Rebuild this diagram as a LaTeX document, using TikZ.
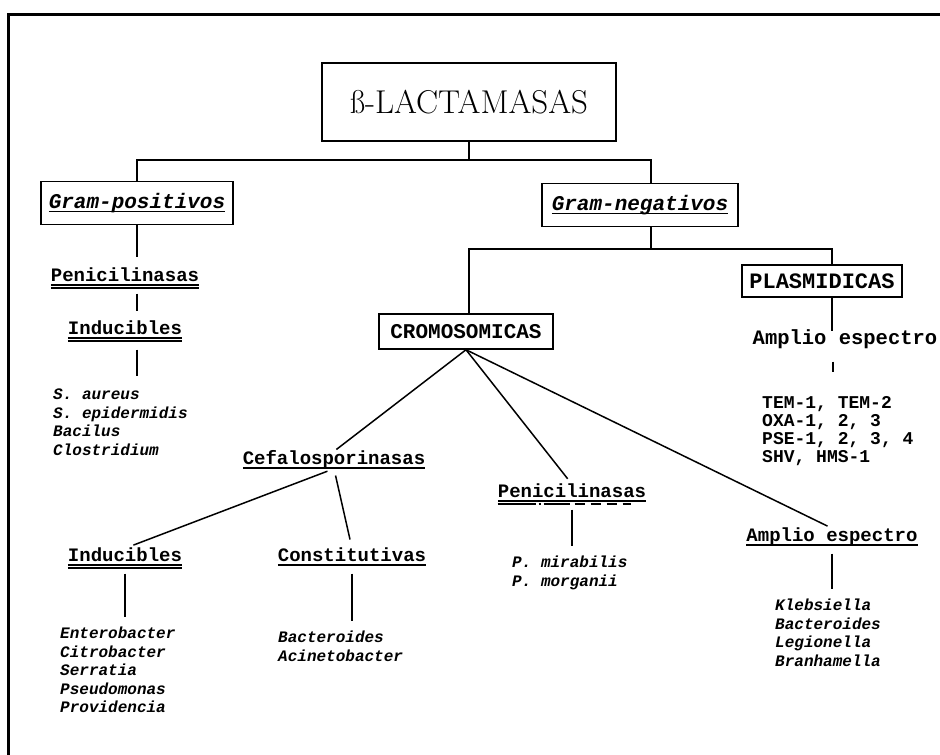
\documentclass[tikz,border=0pt]{standalone}
\usepackage{fontspec}
\setmonofont{Liberation Mono}
\usetikzlibrary{positioning}
% thick underlines, single and double
\newcommand{\ulone}[1]{\setbox0=\hbox{#1}\rlap{\rule[-4pt]{\wd0}{1.4pt}}\box0}
\newcommand{\ultwo}[1]{\setbox0=\hbox{#1}\rlap{\rule[-4pt]{\wd0}{1.4pt}}\rlap{\rule[-7pt]{\wd0}{1.4pt}}\box0}

\begin{document}
\begin{tikzpicture}[
    x=1pt, y=-1pt,
    conn/.style={line width=1.5pt},
    link/.style={conn, shorten <=8pt, shorten >=10pt},
    box/.style={draw, line width=1.5pt, inner sep=0pt},
    lbl/.style={inner sep=0pt, text height=13pt, text depth=4pt, font=\ttfamily\bfseries\fontsize{19}{21}\selectfont},
    grp/.style={box, minimum height=43pt, font=\ttfamily\bfseries\itshape\fontsize{21}{24}\selectfont},
    spp/.style={inner sep=0pt, anchor=north west, align=left, font=\ttfamily\bfseries\itshape\fontsize{16}{18.5}\selectfont}
]
    \useasboundingbox (0,0) rectangle (940,755);
    \draw[line width=3pt] (8,755) -- (8,14) -- (940,14);

    % top levels
    \node[box, minimum width=294pt, minimum height=78pt, font=\fontsize{33}{36}\selectfont] (lact) at (469,102) {ß-LACTAMASAS};
    \node[grp, minimum width=192pt] (gpos) at (137,203) {\ulone{Gram-positivos}};
    \node[grp, minimum width=196pt] (gneg) at (640,205) {\ulone{Gram-negativos}};
    \coordinate (split) at (469,160);
    \draw[conn] (lact) -- (split);
    \draw[conn] (gpos) |- (split) -| ([xshift=11pt]gneg.north);

    % Gram-positivos
    \node[lbl] (pen1) at (125,277) {\ultwo{Penicilinasas}};
    \node[lbl] (ind1) at (125,330) {\ultwo{Inducibles}};
    \node[spp] (gplist) at (53,389) {S. aureus\\S. epidermidis\\Bacilus\\Clostridium};
    \draw[conn, shorten >=11pt] (gpos) -- (gpos.south |- pen1.north);
    \draw[link] (gpos.south |- pen1.south) -- (gpos.south |- ind1.north);
    \draw[link, shorten <=11pt, shorten >=13pt] (gpos.south |- ind1.south) -- (gpos.south |- gplist.north);

    % Gram-negativos
    \node[box, minimum width=174pt, minimum height=35pt, font=\ttfamily\bfseries\fontsize{21}{24}\selectfont] (crom) at (466,331.5) {CROMOSOMICAS};
    \node[box, minimum width=160pt, minimum height=32pt, font=\ttfamily\bfseries\fontsize{22}{24}\selectfont] (plas) at (822,281) {PLASMIDICAS};
    \coordinate (split2) at (651,249);
    \draw[conn] ([xshift=11pt]gneg.south) -- (split2);
    \draw[conn] ([xshift=3pt]crom.north) |- (split2) -| ([xshift=10pt]plas.north);

    % plasmidicas
    \node[lbl, font=\ttfamily\bfseries\fontsize{20.5}{22}\selectfont] (amp1) at (845,340) {Amplio espectro};
    \node[inner sep=0pt, anchor=north west, align=left, font=\ttfamily\bfseries\fontsize{18}{18}\selectfont] (tem) at (762,396) {TEM-1, TEM-2\\OXA-1, 2, 3\\PSE-1, 2, 3, 4\\SHV, HMS-1};
    \draw[conn] ([xshift=10pt]plas.south) -- ([xshift=10pt]plas.south |- amp1.north);
    \draw[conn, shorten <=13pt, shorten >=24pt] ([xshift=11pt]plas.south |- amp1.south) -- ([xshift=11pt]plas.south |- tem.north);

    % cromosomicas
    \node[lbl] (cef) at (334,460) {\ulone{Cefalosporinasas}};
    \node[lbl] (pen2) at (572,493) {\ulone{Penicilinasas}};
    \node[lbl] (amp2) at (832,537) {\ulone{Amplio espectro}};
    \draw[line width=1.4pt, dash pattern=on 38pt off 3pt on 2pt off 3pt on 26pt off 5pt on 10pt off 6pt on 10pt off 6pt on 10pt off 6pt on 12pt]
        ([yshift=-6.3pt]pen2.base west) -- ([yshift=-6.3pt, xshift=-15pt]pen2.base east);
    \draw[conn, shorten >=3pt] (crom.south) -- (cef.north);
    \draw[conn, shorten >=7pt] (crom.south) -- (pen2.north);
    \draw[conn, shorten >=5pt] (crom.south) -- (amp2.north);

    % cefalosporinasas
    \node[lbl] (ind2) at (125,557) {\ultwo{Inducibles}};
    \node[lbl] (con) at (352,557) {\ulone{Constitutivas}};
    \draw[conn, shorten <=7pt, shorten >=9pt] (cef.south) -- (ind2.north);
    \draw[conn, shorten <=7pt, shorten >=9pt] (cef.south) -- (con.north);

    % species
    \node[spp] (entlist) at (60,627) {Enterobacter\\Citrobacter\\Serratia\\Pseudomonas\\Providencia};
    \node[spp] (baclist) at (278,631) {Bacteroides\\Acinetobacter};
    \node[spp] (mirlist) at (512,556) {P. mirabilis\\P. morganii};
    \node[spp] (klelist) at (775,599) {Klebsiella\\Bacteroides\\Legionella\\Branhamella};
    \draw[link] (ind2.south) -- (ind2.south |- entlist.north);
    \draw[link] (con.south) -- (con.south |- baclist.north);
    \draw[link] (pen2.south) -- (pen2.south |- mirlist.north);
    \draw[link] (amp2.south) -- (amp2.south |- klelist.north);
\end{tikzpicture}
\end{document}
